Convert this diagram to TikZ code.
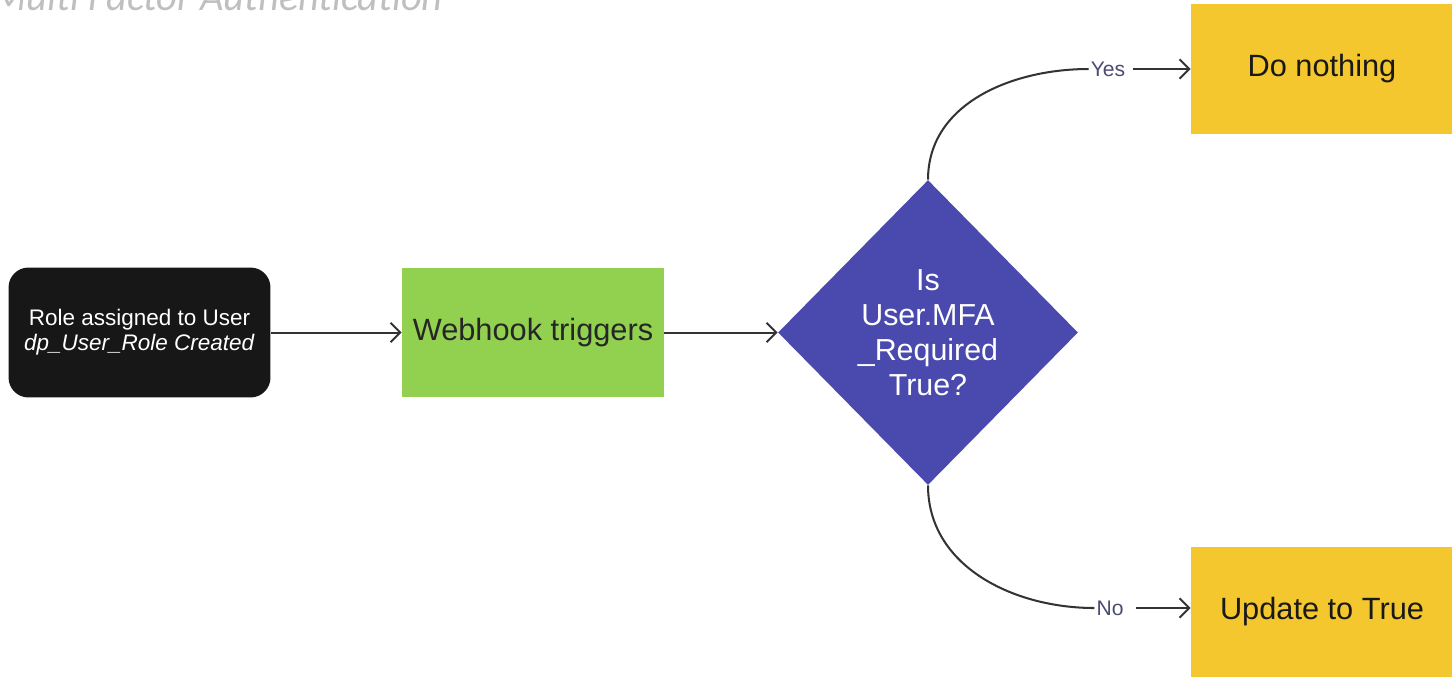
\documentclass[tikz,border=0pt]{standalone}
\usepackage{fontspec}
\setmainfont{Liberation Sans}
\newfontfamily\titlefont{Carlito}
\usetikzlibrary{shapes.geometric,arrows.meta,positioning}
\definecolor{roleblack}{HTML}{171717}
\definecolor{hookgreen}{HTML}{92D050}
\definecolor{checkblue}{HTML}{4A4AAE}
\definecolor{resultgold}{HTML}{F3C72D}
\definecolor{linkgray}{HTML}{333333}
\definecolor{answerink}{HTML}{4B4B72}
\definecolor{titlegray}{HTML}{BFBFBF}

\begin{document}
\begin{tikzpicture}[x=0.02cm,y=-0.02cm,>={Straight Barb[length=5.5pt,width=11pt]},
    box/.style={minimum width=5.24cm,minimum height=2.6cm,inner sep=0pt,align=center},
    link/.style={draw=linkgray,line width=1.15pt},
    answer/.style={text=answerink,font=\fontsize{12}{14}\selectfont,inner sep=1pt}]
    \useasboundingbox (0,0) rectangle (1452,677);
    \clip (0,0) rectangle (1452,677);
    % heading, cut off by the page edge
    \node[anchor=base east,text=titlegray,font=\titlefont\itshape\fontsize{23}{27}\selectfont,inner sep=0pt]
        (heading) at (443,10) {Multi Factor Authentication};
    % flow
    \node[box,fill=roleblack,text=white,rounded corners=0.4cm,font=\fontsize{12.8}{14.2}\selectfont]
        (role) at (139.5,332.5) {Role assigned to User\\\textit{dp\_User\_Role Created}};
    \node[box,fill=hookgreen,text=black!85,font=\fontsize{17.5}{20}\selectfont]
        (hook) at (533,332.5) {Webhook triggers};
    \node[diamond,fill=checkblue,text=white,inner sep=0pt,minimum width=6cm,minimum height=6.1cm,
        align=center,font=\fontsize{17.3}{20}\selectfont]
        (check) at (928,332.5) {Is\\User.MFA\\\_Required\\True?};
    \node[box,fill=resultgold,text=black!90,font=\fontsize{17.5}{20}\selectfont]
        (nothing) at (1322,69) {Do nothing};
    \node[box,fill=resultgold,text=black!90,font=\fontsize{17.5}{20}\selectfont]
        (update) at (1322,612) {Update to True};
    \node[answer] (yes) at (1108,69) {Yes};
    \node[answer] (no) at (1110,608) {No};
    % connectors
    \draw[link,->] (role) -- (hook);
    \draw[link,->] (hook) -- (check);
    \draw[link] (check.north) to[out=90,in=180] (yes.west);
    \draw[link,->,shorten <=3pt] (yes.east) -- (yes.east -| nothing.west);
    \draw[link] (check.south) to[out=-90,in=180] (no.west);
    \draw[link,->,shorten <=6pt] (no.east) -- (no.east -| update.west);
\end{tikzpicture}
\end{document}
